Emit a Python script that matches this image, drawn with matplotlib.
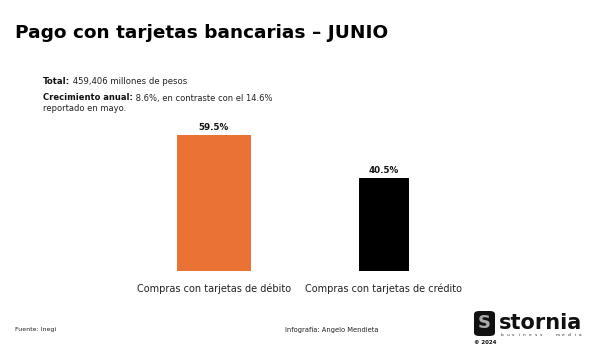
import matplotlib
matplotlib.use("Agg")
import matplotlib.pyplot as plt
from matplotlib.patches import FancyBboxPatch

categories = ["Compras con tarjetas de débito", "Compras con tarjetas de crédito"]
values = [59.5, 40.5]
value_labels = ["59.5%", "40.5%"]
bar_colors = ["#EA7235", "#000000"]
bar_widths = [0.435, 0.295]

title = "Pago con tarjetas bancarias – JUNIO"
note1_bold = "Total:"
note1_rest = " 459,406 millones de pesos"
note2_bold = "Crecimiento anual:"
note2_rest = " 8.6%, en contraste con el 14.6%"
note2_line2 = "reportado en mayo."
source = "Fuente: Inegi"
credit = "Infografía: Angelo Mendieta"

plt.rcParams['font.family'] = ['DejaVu Sans']

W, H = 600, 360
fig = plt.figure(figsize=(6, 3.6), dpi=100)
fig.patch.set_facecolor("white")

def fx(px):
    return px / W

def fy(py):
    return 1 - py / H

# axes: x from 130 to 470 px, baseline at 271 px, top at 120 px
ax = fig.add_axes([fx(130), fy(271), fx(340), (271 - 120) / H])
x = list(range(len(values)))
ax.bar(x, values, width=bar_widths, color=bar_colors)
ax.set_xlim(-0.494, 1.506)
ax.set_ylim(0, 66)
for xi, v, lab in zip(x, values, value_labels):
    ax.text(xi, v + 1.3, lab, ha="center", va="bottom", fontsize=6.3,
            fontweight="bold", color="#111111")
ax.set_xticks(x)
ax.set_xticklabels(categories, fontsize=7.0, color="#222222")
ax.tick_params(axis="x", length=0, pad=9)
ax.set_yticks([])
for s in ax.spines.values():
    s.set_visible(False)

# title
fig.text(fx(15), fy(33.5), title, fontsize=13.3, fontweight="bold",
         color="#000000", ha="left", va="center")

renderer = fig.canvas.get_renderer()

def mixed(xpx, ypx, bold, rest, size):
    t = fig.text(fx(xpx), fy(ypx), bold, fontsize=size, fontweight="bold",
                 color="#111111", ha="left", va="center")
    bb = t.get_window_extent(renderer=renderer)
    fig.text(bb.x1 / W, fy(ypx), rest, fontsize=size, color="#222222",
             ha="left", va="center")

mixed(43, 82, note1_bold, note1_rest, 6.1)
mixed(43, 98, note2_bold, note2_rest, 6.0)
fig.text(fx(43), fy(108.5), note2_line2, fontsize=6.0, color="#222222",
         ha="left", va="center")

# footer
fig.text(fx(15), fy(329.5), source, fontsize=4.5, color="#222222",
         ha="left", va="center")
fig.text(fx(285), fy(329.5), credit, fontsize=4.9, color="#222222",
         ha="left", va="center")

# logo
logo = FancyBboxPatch((fx(474), fy(336)), fx(21), (336 - 311) / H,
                      boxstyle="round,pad=0,rounding_size=0.009",
                      transform=fig.transFigure, facecolor="#111111",
                      edgecolor="none")
fig.patches.append(logo)
fig.text(fx(484.5), fy(323.5), "S", fontsize=13, fontweight="bold",
         color="#AAAAAA", ha="center", va="center")
fig.text(fx(499), fy(323), "stornia", fontsize=15, fontweight="bold",
         color="#111111", ha="left", va="center")
for i, ch in enumerate("business"):
    fig.text(fx(502 + i * 5.6), fy(335), ch, fontsize=3.2, color="#333333",
             ha="center", va="center")
for i, ch in enumerate("media"):
    fig.text(fx(558 + i * 5.6), fy(335), ch, fontsize=3.2, color="#333333",
             ha="center", va="center")
fig.text(fx(474), fy(343), "© 2024", fontsize=4.0, fontweight="bold",
         color="#111111", ha="left", va="center")

fig.savefig("out.png", dpi=100, facecolor="white")
